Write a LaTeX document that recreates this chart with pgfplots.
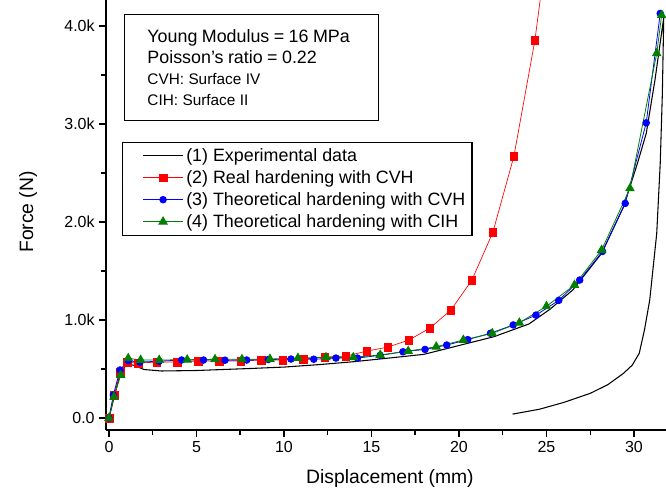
\documentclass[border=0pt]{standalone}
\usepackage{fontspec}
\setmainfont{Liberation Sans}
\usepackage{pgfplots}
\pgfplotsset{compat=1.18}
\definecolor{ogreen}{RGB}{0,128,0}
\begin{document}
\begin{tikzpicture}
\begin{axis}[
  scale only axis,
  width=420pt, height=322.5pt,
  xmin=-0.17, xmax=31.83,
  ymin=-122, ymax=4265,
  axis x line*=bottom, axis y line*=left,
  axis line style={line width=1.4pt},
  tick align=outside,
  major tick length=5pt, minor tick length=4pt,
  every tick/.style={black, line width=1.1pt},
  xtick={0,5,10,15,20,25,30},
  xticklabels={0,5,10,15,20,25,30},
  minor xtick={2.5,7.5,12.5,17.5,22.5,27.5},
  ytick={0,1000,2000,3000,4000},
  yticklabels={0.0,1.0k,2.0k,3.0k,4.0k},
  minor ytick={500,1500,2500,3500},
  tick label style={font=\fontsize{12}{14}\selectfont},
  /pgf/number format/assume math mode=true,
  xlabel={Displacement (mm)},
  ylabel={Force (N)},
  label style={font=\fontsize{14.5}{17}\selectfont},
  xlabel style={at={(axis description cs:0.507,-0.112)},anchor=center},
  ylabel style={at={(axis description cs:-0.139,0.507)},anchor=center},
  legend cell align=left,
  legend style={at={(rel axis cs:0.0286,0.6705)},anchor=north west,
    font=\fontsize{13.4}{16.5}\selectfont, draw=black, line width=0.8pt,
    inner xsep=3pt, inner ysep=2.5pt, row sep=1.3pt},
  legend image code/.code={\path (0pt,0pt); \draw[mark repeat=2,mark phase=2,#1] plot coordinates {(12pt,0pt) (27pt,0pt) (42pt,0pt)};},
  clip=true,
]
\coordinate (O) at (rel axis cs:0,0);
\coordinate (TR) at (rel axis cs:1,1);
% (1) experimental
\addplot[black, line width=0.8pt, mark=none] coordinates {
(0,0) (0.3,220) (0.65,460) (1.0,545) (1.4,540) (2.0,495) (3.0,480) (5.0,485) (8.0,505)
(10,520) (12,545) (14,575) (16,612) (18,650) (20,740) (22,830) (24,960) (25.2,1110)
(26.5,1306) (28.15,1680) (29.4,2155) (30.2,2600) (30.7,2904) (31.2,3450) (31.6,3958) (31.7,4080)
(31.62,3300) (31.5,2600) (31.3,1884) (30.9,1204) (30.6,900) (30.3,660) (29.9,540) (29.4,456)
(28.5,340) (27.5,252) (26,160) (24.6,90) (23.06,40)
};
\addlegendentry{(1) Experimental data}
% (2) real hardening CVH
\addplot[red, line width=0.5pt, mark=square*, mark size=2.9pt, mark options={solid}] coordinates {
(0,0) (0.3,230) (0.65,470) (1.05,570) (1.66,561) (2.74,571) (3.89,571) (5.09,581) (6.29,581)
(7.54,581) (8.69,592) (9.94,592) (11.09,602) (12.34,622) (13.54,632) (14.74,683) (15.94,724)
(17.14,796) (18.34,918) (19.54,1102) (20.74,1408) (21.94,1897) (23.14,2672) (24.34,3856)
(25.54,5500)
};
\addlegendentry{(2) Real hardening with CVH}
% (3) theoretical CVH
\addplot[blue, line width=0.6pt, mark=*, mark size=2.5pt] coordinates {
(0,0) (0.25,235) (0.63,490) (1.1,585) (1.77,570) (2.87,580) (4.15,592) (5.4,592) (6.63,590)
(7.87,592) (9.1,597) (10.4,602) (11.7,600) (12.97,612) (14.2,612) (15.5,640) (16.8,676)
(18.06,700) (19.3,745) (20.5,800) (21.8,865) (23.1,950) (24.4,1050) (25.7,1200) (26.9,1408)
(28.2,1700) (29.5,2190) (30.7,3012) (31.5,4128)
};
\addlegendentry{(3) Theoretical hardening with CVH}
% (4) theoretical CIH
\addplot[ogreen, line width=0.6pt, mark=triangle*, mark size=3.6pt] coordinates {
(0,0) (0.29,217) (0.67,438) (1.1,609) (1.81,592) (2.87,592) (4.47,595) (6.06,599) (7.6,599)
(9.2,602) (10.8,612) (12.4,619) (13.96,619) (15.5,643) (17.1,683) (18.7,727) (20.25,796)
(21.9,864) (23.45,972) (25.0,1140) (26.6,1357) (28.15,1714) (29.77,2343) (31.3,3720) (31.58,4110)
};
\addlegendentry{(4) Theoretical hardening with CIH}
\node[draw=black, line width=0.8pt, anchor=north west, minimum width=190.5pt, minimum height=79.5pt,
  text width=156pt, align=left, inner xsep=17pt, inner ysep=0pt]
  at (rel axis cs:0.032,0.967) {%
  \vbox to 79.5pt{\vss
  \fontsize{13.4}{15.75}\selectfont Young Modulus = 16 MPa\\
  Poisson's ratio = 0.22\\
  \fontsize{11.5}{15.75}\selectfont CVH: Surface IV\\
  CIH: Surface II
  \vss}};
\end{axis}
\pgfresetboundingbox
\path[use as bounding box] ([shift={(-79.5pt,-48.75pt)}]O) rectangle (TR);
\end{tikzpicture}
\end{document}
